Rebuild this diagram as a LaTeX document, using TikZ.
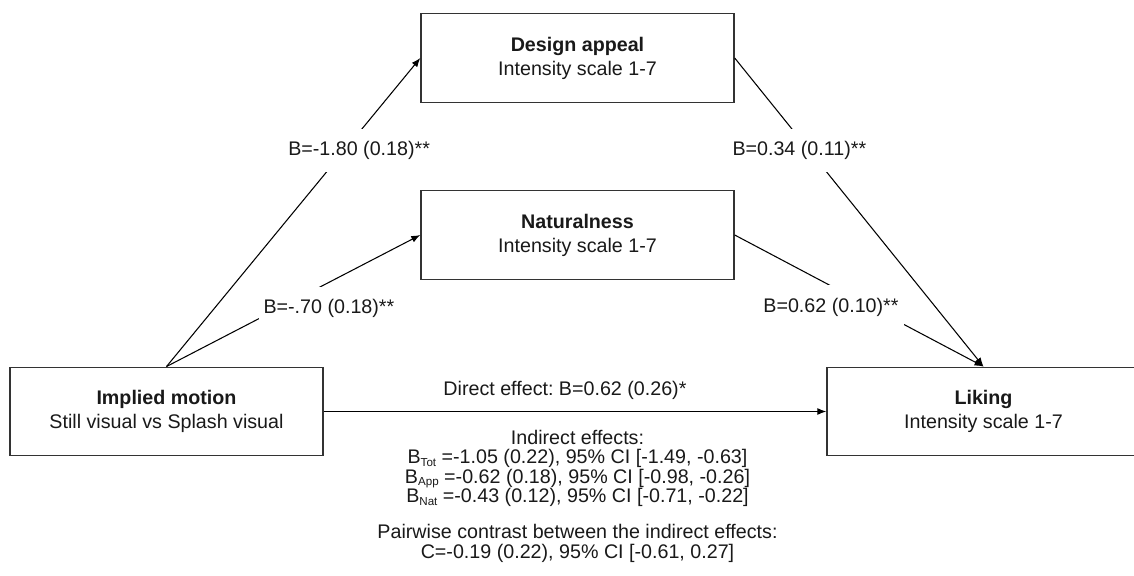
\documentclass[tikz,border=0pt]{standalone}
\usepackage{fontspec}
\setmainfont{Liberation Sans}
\usetikzlibrary{calc,arrows.meta}

\newcommand{\effsub}[1]{\raisebox{-0.25ex}{\fontsize{6.6pt}{7pt}\selectfont #1}}
\newcommand{\efflines}{\fontsize{11.2pt}{11pt}\selectfont\lineskiplimit=-6pt\relax}

\begin{document}
\frenchspacing
\begin{tikzpicture}[>={Latex[length=0.18cm,width=0.14cm]}]

    \tikzstyle{var}=[draw=black!80, line width=0.8pt, minimum width=6.26cm, minimum height=1.77cm, align=center, text=black!90, font=\fontsize{11.2pt}{13.7pt}\selectfont];
    \tikzstyle{coef}=[fill=white, inner xsep=0.1cm, inner ysep=0pt, minimum height=0.86cm, text=black!90, font=\fontsize{11.2pt}{13.7pt}\selectfont];

    \path[use as bounding box, clip] (0,0) rectangle (22.68,-11.52);

    \node[var] (appeal) at (11.55,-1.16) {\textbf{Design appeal}\\Intensity scale 1-7};
    \node[var] (natural) at ($(appeal)+(0,-3.54)$) {\textbf{Naturalness}\\Intensity scale 1-7};
    \node[var] (motion) at ($(natural)+(-8.22,-3.53)$) {\textbf{Implied motion}\\Still visual vs Splash visual};
    \node[var] (liking) at ($(motion)+(16.34,0)$) {\textbf{Liking}\\Intensity scale 1-7};

    \draw (motion.north) edge[->, line width=0.6pt] node [coef, pos=0.70, xshift=0.3cm] {B=-1.80 (0.18)**} (appeal.west);
    \draw (motion.north) edge[->, line width=0.6pt] node [coef, pos=0.64, yshift=-0.52cm] {B=-.70 (0.18)**} (natural.west);
    \draw (appeal.east) edge[->, line width=0.6pt] node [coef, pos=0.30, xshift=-0.2cm] {B=0.34 (0.11)**} (liking.north);
    \draw (natural.east) edge[->, line width=0.6pt] node [coef, pos=0.387, yshift=-0.42cm] {B=0.62 (0.10)**} (liking.north);
    \draw (motion.east) edge[->, line width=0.6pt] node [coef, fill=none, pos=0.48, yshift=0.42cm] {Direct effect: B=0.62 (0.26)*} (liking.west);

    \node[anchor=north, align=center, inner sep=0pt, text=black!90, font=\efflines] (indirect) at ($(appeal)+(0,-7.44)$) {Indirect effects:\\B\effsub{Tot} =-1.05 (0.22), 95\% CI [-1.49, -0.63]\\B\effsub{App} =-0.62 (0.18), 95\% CI [-0.98, -0.26]\\B\effsub{Nat} =-0.43 (0.12), 95\% CI [-0.71, -0.22]\\[0.34cm]Pairwise contrast between the indirect effects:\\C=-0.19 (0.22), 95\% CI [-0.61, 0.27]};
\end{tikzpicture}
\end{document}
